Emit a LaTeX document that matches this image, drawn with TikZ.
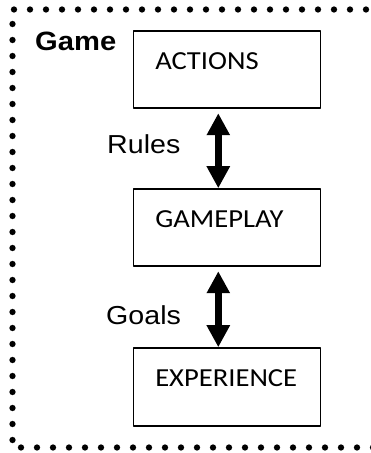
\documentclass[tikz,border=0pt]{standalone}
\usepackage{fontspec}
\setmainfont{Liberation Sans}
\newfontfamily\boxfont{Carlito}
\usetikzlibrary{arrows.meta}
\tikzset{
	blok/.style={draw, line width=1.5pt, minimum width=187pt, minimum height=77pt, inner sep=0pt},
	bloktext/.style={anchor=base west, inner sep=0pt, xscale=1.1, transform shape, font=\boxfont\fontsize{26}{30}\selectfont},
	lbl/.style={anchor=base west, inner sep=0pt, xscale=1.1, transform shape, font=\fontsize{26}{30}\selectfont},
	dubbel/.style={{Triangle[width=22pt,length=22pt]}-{Triangle[width=22pt,length=22pt]}, line width=6.5pt},
}
\begin{document}
\begin{tikzpicture}[x=1pt, y=1pt, line join=round]
	\useasboundingbox (0,0) rectangle (371,453);
	\clip (0,0) rectangle (371,453);
	
	% dotted frame, right side runs off the page
	\draw[line width=6.3pt, line cap=round, dash pattern=on 0pt off 16pt] (382,443.5)--(12.5,443.5)--(12.5,5.5)--(382,5.5);
	
	\node[blok] (actions) at (226.8,383.5) {};
	\node[blok] (gameplay) at (226.8,225.5) {};
	\node[blok, minimum height=78pt] (experience) at (226.8,66) {};
	
	\node[bloktext] (tactions) at ([shift={(22.5pt,-39pt)}]actions.north west) {ACTIONS};
	\node[bloktext] (tgameplay) at ([shift={(22.5pt,-39pt)}]gameplay.north west) {GAMEPLAY};
	\node[bloktext] (texperience) at ([shift={(22.5pt,-39pt)}]experience.north west) {EXPERIENCE};
	
	\draw[dubbel] ([xshift=-8.5pt,yshift=-4.5pt]actions.south)--([xshift=-8.5pt]gameplay.north);
	\draw[dubbel] ([xshift=-8.5pt,yshift=-4.5pt]gameplay.south)--([xshift=-8.5pt]experience.north);
	
	\node[lbl, font=\bfseries\fontsize{26.5}{30}\selectfont] (game) at (35,402) {Game};
	\node[lbl] (rules) at (107,299) {Rules};
	\node[lbl] (goals) at (106,128) {Goals};
\end{tikzpicture}
\end{document}
